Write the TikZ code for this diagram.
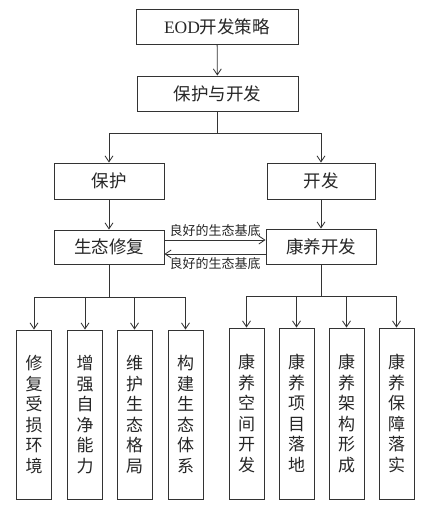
\documentclass[tikz,border=0pt]{standalone}
\usepackage{fontspec}
\setmainfont{Noto Sans CJK SC}
\newfontfamily\eodfont{Liberation Serif}
\usetikzlibrary{arrows.meta}
\definecolor{ln}{HTML}{333333}
\tikzset{
  box/.style={draw=ln, line width=0.9pt, inner sep=0pt, font=\fontsize{17.5}{20}\selectfont, text=black!85},
  vbox/.style={draw=ln, line width=0.9pt, inner sep=0pt, minimum width=35pt, align=center,
    font=\fontsize{17}{20.5}\selectfont, text=black!85},
  arr/.style={draw=ln, line width=0.8pt, -{Straight Barb[length=6pt,width=8pt]}},
  ln/.style={draw=ln, line width=0.8pt},
  lab/.style={font=\fontsize{13}{15}\selectfont, inner sep=0pt, text=black!85}
}
\begin{document}
\begin{tikzpicture}[x=1pt,y=-1pt]
\useasboundingbox (0,0) rectangle (438,506);
\node[box, minimum width=162pt, minimum height=35pt] (b1) at (217,26.5) {{\eodfont EOD}开发策略};
\node[box, minimum width=161pt, minimum height=35pt] (b2) at (217.5,93.5) {保护与开发};
\node[box, minimum width=110pt, minimum height=36pt] (p) at (109,181) {保护};
\node[box, minimum width=108pt, minimum height=36pt] (k) at (321,181) {开发};
\node[box, minimum width=110pt, minimum height=34pt] (s) at (109,247) {生态修复};
\node[box, minimum width=110pt, minimum height=35pt] (kk) at (321,246.5) {康养开发};
\node[vbox, minimum height=169pt] (l1) at (34,414.5) {修\\复\\受\\损\\环\\境};
\node[vbox, minimum height=169pt] (l2) at (85,414.5) {增\\强\\自\\净\\能\\力};
\node[vbox, minimum height=169pt] (l3) at (134.5,414.5) {维\\护\\生\\态\\格\\局};
\node[vbox, minimum height=169pt] (l4) at (185.5,414.5) {构\\建\\生\\态\\体\\系};
\node[vbox, minimum height=171pt] (r1) at (246.5,413.5) {康\\养\\空\\间\\开\\发};
\node[vbox, minimum height=171pt] (r2) at (296.5,413.5) {康\\养\\项\\目\\落\\地};
\node[vbox, minimum height=171pt] (r3) at (346.5,413.5) {康\\养\\架\\构\\形\\成};
\node[vbox, minimum height=171pt] (r4) at (396.5,413.5) {康\\养\\保\\障\\落\\实};
\coordinate (j1) at (217.5,133);
\coordinate (j2) at (109,297);
\coordinate (j3) at (321,296);
\draw[arr] (b1) -- (b2);
\draw[ln] (b2.south) -- (j1);
\draw[arr] (j1) -| (p.north);
\draw[arr] (j1) -| (k.north);
\draw[arr] (p) -- (s);
\draw[arr] (k) -- (kk);
\draw[arr] (s.east |- 0,240) -- node[lab, above=3pt] (t1) {良好的生态基底} (kk.west |- 0,240);
\draw[arr] (kk.west |- 0,254) -- node[lab, below=3pt] (t2) {良好的生态基底} (s.east |- 0,254);
\draw[ln] (s.south) -- (j2);
\foreach \n in {l1,l2,l3,l4} \draw[arr] (j2) -| (\n.north);
\draw[ln] (kk.south) -- (j3);
\foreach \n in {r1,r2,r3,r4} \draw[arr] (j3) -| (\n.north);
\end{tikzpicture}
\end{document}
